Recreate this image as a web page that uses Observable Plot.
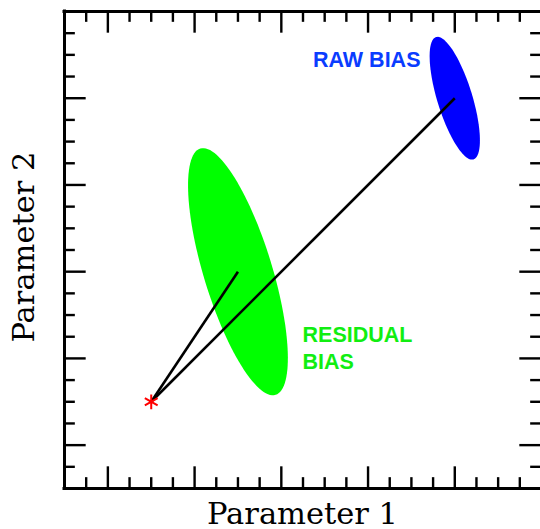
<!DOCTYPE html>
<html>
<head>
<meta charset="utf-8">
<script src="https://cdn.jsdelivr.net/npm/d3@7"></script>
<script src="https://cdn.jsdelivr.net/npm/@observablehq/plot@0.6"></script>
<style>
  html, body { margin: 0; padding: 0; background: #fff; }
  #chart { width: 540px; height: 529px; overflow: hidden; }
</style>
</head>
<body>
<div id="chart"></div>
<script>
// ---- data (in axis units; axis runs 0..22) ----
const axisDomain = [0, 22];
const minorTicks = d3.range(1, 22);           // tick positions
const majorTicks = [2, 6, 10, 14, 18];
const truthPoint = [{x: 4, y: 4}];            // red asterisk
const ellipses = [
  {name: "residual", cx: 8,  cy: 10, a: 5.94, b: 1.58, angle: -73, color: "#00ff00"},
  {name: "raw",      cx: 18, cy: 18, a: 2.95, b: 0.81, angle: -73, color: "#0000ff"}
];
const segments = [
  {x1: 4, y1: 4, x2: 8,  y2: 10},
  {x1: 4, y1: 4, x2: 18, y2: 18}
];
const labels = [
  {text: "RAW BIAS", x: 11.46, y: 19.42, color: "#0a3cff"},
  {text: "RESIDUAL", x: 10.98, y: 6.74,  color: "#11ee11"},
  {text: "BIAS",     x: 10.98, y: 5.49,  color: "#11ee11"}
];
const xLabel = "Parameter 1";
const yLabel = "Parameter 2";

// ---- ellipse outlines from their parameters ----
function ellipsePoints(e) {
  const th = e.angle * Math.PI / 180;
  return d3.range(0, 360, 3).map(t => {
    const u = t * Math.PI / 180;
    const ex = e.a * Math.cos(u), ey = e.b * Math.sin(u);
    return {x: e.cx + ex * Math.cos(th) - ey * Math.sin(th),
            y: e.cy + ex * Math.sin(th) + ey * Math.cos(th),
            name: e.name, color: e.color};
  });
}
const ellipsePts = ellipses.flatMap(ellipsePoints);

const isMajor = d => majorTicks.includes(d);
const len = d => isMajor(d) ? 1 : 0.5;
const tw = 2.4;
const serif = "'DejaVu Serif', 'Liberation Serif', serif";

const chart = Plot.plot({
  width: 540,
  height: 529,
  marginLeft: 64,
  marginRight: 0,
  marginTop: 11,
  marginBottom: 41,
  x: {domain: axisDomain, range: [64, 541], axis: null},
  y: {domain: axisDomain, range: [488, 11], axis: null},
  style: {background: "white"},
  marks: [
    Plot.line(ellipsePts, {x: "x", y: "y", z: "name", fill: "color", stroke: "none", curve: "linear-closed"}),
    Plot.link(segments, {x1: "x1", y1: "y1", x2: "x2", y2: "y2", stroke: "black", strokeWidth: 2.6}),
    Plot.dot(truthPoint, {x: "x", y: "y", symbol: "asterisk", r: 7, stroke: "red", strokeWidth: 2}),
    // ticks, inward on all four sides
    Plot.ruleX(minorTicks, {x: d => d, y1: axisDomain[0], y2: d => axisDomain[0] + len(d), stroke: "black", strokeWidth: tw}),
    Plot.ruleX(minorTicks, {x: d => d, y1: axisDomain[1], y2: d => axisDomain[1] - len(d), stroke: "black", strokeWidth: tw}),
    Plot.ruleY(minorTicks, {y: d => d, x1: axisDomain[0], x2: d => axisDomain[0] + len(d), stroke: "black", strokeWidth: tw}),
    Plot.ruleY(minorTicks, {y: d => d, x1: axisDomain[1], x2: d => axisDomain[1] - len(d), stroke: "black", strokeWidth: tw}),
    // frame
    Plot.ruleX(axisDomain, {x: d => d, y1: axisDomain[0], y2: axisDomain[1], stroke: "black", strokeWidth: 3, strokeLinecap: "square"}),
    Plot.ruleY(axisDomain, {y: d => d, x1: axisDomain[0], x2: axisDomain[1], stroke: "black", strokeWidth: 3, strokeLinecap: "square"}),
    // annotation text
    Plot.text(labels, {x: "x", y: "y", text: "text", fill: "color", textAnchor: "start", lineAnchor: "bottom",
      fontFamily: "'Liberation Sans', Arial, sans-serif", fontWeight: "bold", fontSize: 21.5}),
    // axis titles
    Plot.text([xLabel], {frameAnchor: "bottom", text: d => d, textAnchor: "middle", lineAnchor: "bottom", dx: 0, dy: 35, fill: "black",
      fontFamily: serif, fontSize: 30.5}),
    Plot.text([yLabel], {frameAnchor: "left", text: d => d, rotate: -90, textAnchor: "middle", lineAnchor: "bottom", dx: -31, dy: -3, fill: "black",
      fontFamily: serif, fontSize: 30.5})
  ]
});
document.getElementById("chart").appendChild(chart);
</script>
</body>
</html>
